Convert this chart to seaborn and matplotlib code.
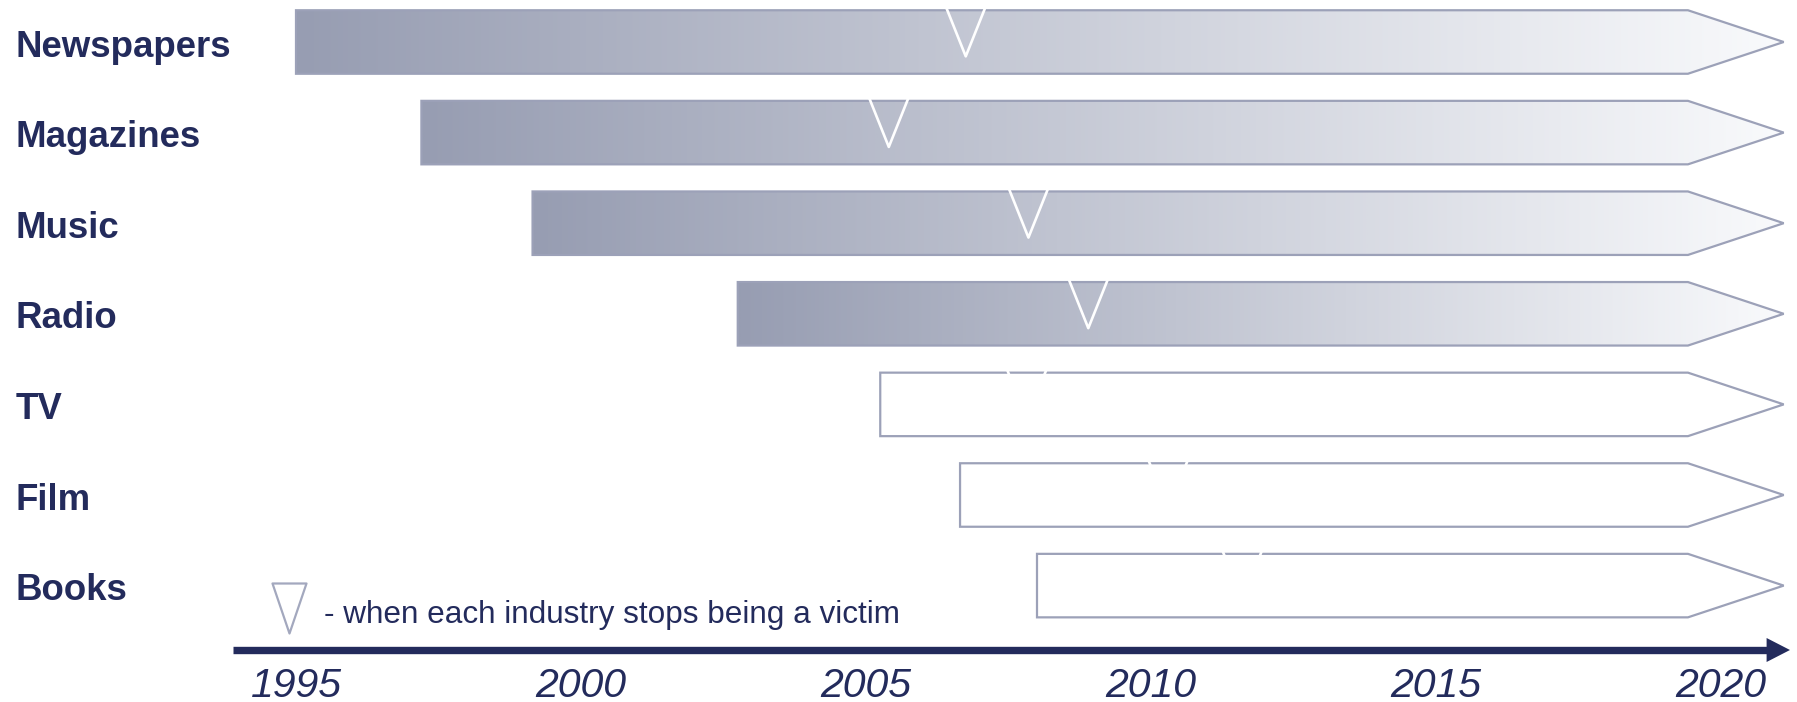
import numpy as np
import matplotlib
matplotlib.use("Agg")
import matplotlib.pyplot as plt
from matplotlib.patches import Polygon
from matplotlib.path import Path
from matplotlib.colors import LinearSegmentedColormap
import matplotlib.transforms as mtransforms
import seaborn as sns
import pandas as pd

# ---------------- data ----------------
industries = ["Newspapers", "Magazines", "Music", "Radio", "TV", "Film", "Books"]
start_years = [1995.0, 1997.2, 1999.15, 2002.75, 2005.25, 2006.65, 2008.0]
stop_victim_years = [2006.75, 2005.4, 2007.85, 2008.9, 2007.82, 2010.3, 2011.6]
shaded = [True, True, True, True, False, False, False]
end_year = 2019.42
tip_year = 2021.1
tick_years = [1995, 2000, 2005, 2010, 2015, 2020]
legend_text = "- when each industry stops being a victim"

# ---------------- style ----------------
NAVY = "#232B5C"
EDGE = "#9CA1B8"
LEG_EDGE = "#A3A8BE"
sns.set_theme(style="white")
plt.rcParams['font.family'] = ['Liberation Sans', 'DejaVu Sans']

W, Hpx = 1797, 702
fig = plt.figure(figsize=(W / 100, Hpx / 100), dpi=100)
ax = fig.add_axes([0, 0, 1, 1])

PX_PER_YEAR = 57.0
X0PX = 296.0
ROW_PX = 90.6
ROW0 = 42.0
XLIM = (1995 - X0PX / PX_PER_YEAR, 1995 + (W - X0PX) / PX_PER_YEAR)
YLIM = ((Hpx - ROW0) / ROW_PX, -ROW0 / ROW_PX)

BAR_H = 63.5 / ROW_PX
cmap = LinearSegmentedColormap.from_list("g", ["#979DB2", "#F9FAFC"])
grad = np.linspace(0, 1, 512).reshape(1, -1)

for i, s in enumerate(start_years):
    top, bot = i - BAR_H / 2, i + BAR_H / 2
    verts = [(s, top), (end_year, top), (tip_year, i), (end_year, bot), (s, bot)]
    base = Polygon(verts, closed=True, facecolor="white", edgecolor="none", zorder=2)
    ax.add_patch(base)
    if shaded[i]:
        im = ax.imshow(grad, cmap=cmap, aspect="auto", extent=[s, tip_year, bot, top],
                       zorder=2.5, interpolation="bilinear")
        im.set_clip_path(base)
    ax.add_patch(Polygon(verts, closed=True, fill=False, edgecolor=EDGE, lw=1.6,
                         joinstyle="miter", zorder=3))

# open "V" markers inside the bars (top of marker at its origin)
vee = Path([(-0.4, 0.0), (0.0, -1.0), (0.4, 0.0)])
VEE_MS = 70.0
df = pd.DataFrame({"industry": industries, "year": stop_victim_years,
                   "y": [i - BAR_H / 2 - 2.5 / ROW_PX for i in range(len(industries))]})
sns.scatterplot(data=df, x="year", y="y", marker=vee, s=VEE_MS ** 2, color="white",
                edgecolor="white", linewidth=1.9, ax=ax, zorder=4, legend=False)
ax.collections[-1].set_facecolor("none")

# legend marker (closed triangle)
tri = Path([(-0.34, 0.0), (0.34, 0.0), (0.0, -1.0), (-0.34, 0.0)], closed=True)
leg_df = pd.DataFrame({"year": [1994.88], "y": [(583 - ROW0) / ROW_PX]})
sns.scatterplot(data=leg_df, x="year", y="y", marker=tri, s=72.0 ** 2, color="white",
                edgecolor=LEG_EDGE, linewidth=1.6, ax=ax, zorder=4, legend=False)
ax.text(1995.5, (623 - ROW0) / ROW_PX, legend_text, fontsize=22.7, color=NAVY,
        va="baseline", ha="left")

# row labels
trans = mtransforms.blended_transform_factory(ax.transAxes, ax.transData)
for i, name in enumerate(industries):
    ax.text(16 / W, i + 14.7 / ROW_PX, name, transform=trans, fontsize=26.4,
            fontweight="bold", color=NAVY, va="baseline", ha="left")

# time axis
AXIS_Y = (650 - ROW0) / ROW_PX
for side in ["top", "left", "right"]:
    ax.spines[side].set_visible(False)
sp = ax.spines["bottom"]
sp.set_visible(True)
sp.set_position(("data", AXIS_Y))
sp.set_bounds(1993.9, 2020.9)
sp.set_color(NAVY)
sp.set_linewidth(5.3)
sp.set_capstyle("butt")
ax.add_patch(Polygon([(2020.8, AXIS_Y - 12 / ROW_PX), (2021.21, AXIS_Y),
                      (2020.8, AXIS_Y + 12 / ROW_PX)], closed=True,
                     facecolor=NAVY, edgecolor="none", zorder=5))
ax.set_xticks(tick_years)
ax.set_xticklabels([str(y) for y in tick_years], fontsize=29.5, style="italic", color=NAVY)
ax.tick_params(axis="x", length=0, pad=12)
ax.set_yticks([])
ax.set_xlabel("")
ax.set_ylabel("")
ax.set_facecolor("white")
ax.grid(False)

ax.set_xlim(*XLIM)
ax.set_ylim(*YLIM)

fig.savefig("out.png", dpi=100, facecolor="white")
